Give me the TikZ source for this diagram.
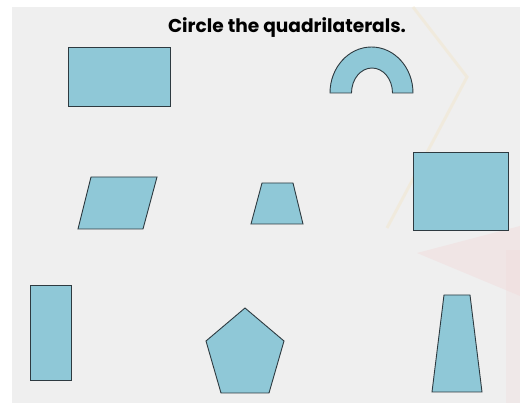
\documentclass[tikz,border=0pt]{standalone}
\usepackage{fontspec}
\setmainfont{Poppins}
\definecolor{panel}{HTML}{EFEFEF}
\definecolor{shapefill}{HTML}{8FC8D7}
\definecolor{edge}{HTML}{2E3A40}
\definecolor{starline}{HTML}{F3E6C8}
\definecolor{pinkmark}{HTML}{F1DCDC}
\tikzset{
  figshape/.style={fill=shapefill, draw=edge, line width=0.9pt, line join=miter},
}
\begin{document}
\begin{tikzpicture}[x=1pt,y=-1pt]
\useasboundingbox (0,0) rectangle (520,403);
\fill[white] (0,0) rectangle (520,403);
\fill[panel] (12,7) rectangle (520,403);
% faint watermark
\draw[starline, line width=3pt, opacity=0.45] (413,7) -- (467,77) -- (387,228);
\fill[pinkmark, opacity=0.5] (417,253) -- (520,226) -- (520,296) -- cycle;
\fill[pinkmark, opacity=0.35] (506,250) rectangle (520,403);
% title
\node[font=\bfseries\fontsize{18.6}{22}\selectfont, anchor=base] (title) at (287,33) {Circle the quadrilaterals.};
% shapes
\draw[figshape] (68,47) rectangle (170,106);
\draw[figshape] (330,93) arc[start angle=180, end angle=360, x radius=41.5, y radius=46]
  -- (392.5,93) arc[start angle=360, end angle=180, x radius=20.5, y radius=25] -- cycle;
\draw[figshape] (78,229) -- (143,229) -- (157,177) -- (91,177) -- cycle;
\draw[figshape] (251,224) -- (303,224) -- (293,183) -- (262,183) -- cycle;
\draw[figshape] (413,152) rectangle (508,230);
\draw[figshape] (30,285) rectangle (71,380);
\draw[figshape] (245,308) -- (284,341) -- (269,393) -- (221,393) -- (206,341) -- cycle;
\draw[figshape] (444,295) -- (470,295) -- (482,392) -- (432,392) -- cycle;
\end{tikzpicture}
\end{document}
